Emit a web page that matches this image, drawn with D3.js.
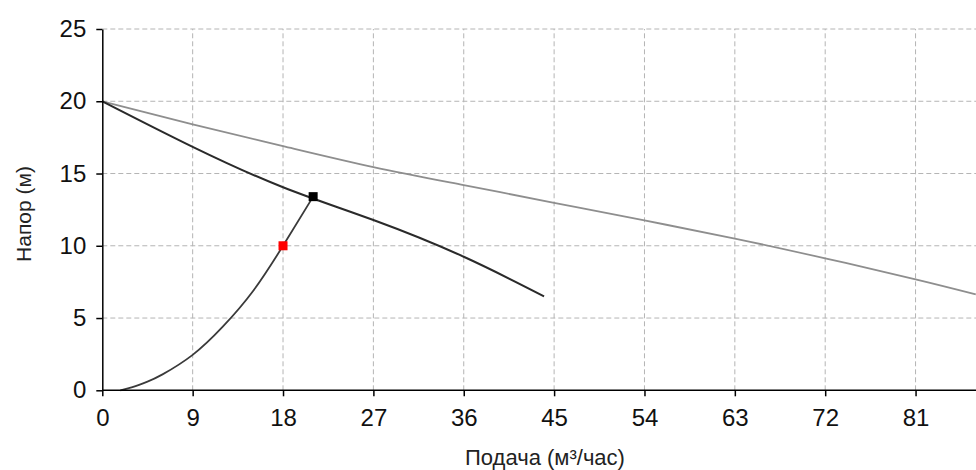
<!DOCTYPE html>
<meta charset="utf-8">
<title>Напор / Подача</title>
<style>
body { margin: 0; background: #fff; }
text { font-family: "Liberation Sans", Arial, sans-serif; }
.axis path, .axis line { stroke: #000; }
.grid line { stroke: #b4b4b4; stroke-dasharray: 5,3; }
</style>
<body>
<script src="https://d3js.org/d3.v7.min.js"></script>
<script>

// axis ticks
var xTicks = [0, 9, 18, 27, 36, 45, 54, 63, 72, 81];
var yTicks = [0, 5, 10, 15, 20, 25];

// grey curve (upper)
var greyQ = [0, 9, 18, 27, 36, 45, 54, 63, 72, 81, 87];
var greyH = [20, 18.4, 16.9, 15.45, 14.2, 12.97, 11.75, 10.5, 9.13, 7.68, 6.64];

// pump curve (black)
var pumpQ = [0, 9, 18, 27, 36, 44];
var pumpH = [20, 16.85, 14.05, 11.78, 9.24, 6.5];

// system curve
var sysQ = [1.8, 3, 4.5, 6, 9, 12, 15, 18, 21];
var sysH = [0, 0.22, 0.6, 1.1, 2.45, 4.4, 6.85, 10, 13.4];

// markers
var workPoint = [21, 13.4];
var reqPoint = [18, 10];

var width = 976, height = 470;

var svg = d3.select("body").append("svg")
    .attr("width", width)
    .attr("height", height);

var x = d3.scaleLinear().domain([0, 87]).range([102.3, 975.8]);
var y = d3.scaleLinear().domain([0, 25]).range([390.3, 29]);

// grid
svg.append("g").attr("class", "grid")
  .selectAll("line").data(xTicks.slice(1)).enter().append("line")
    .attr("x1", d => x(d)).attr("x2", d => x(d))
    .attr("y1", y(0)).attr("y2", y(25));
svg.append("g").attr("class", "grid")
  .selectAll("line").data(yTicks.slice(1)).enter().append("line")
    .attr("x1", x(0)).attr("x2", width)
    .attr("y1", d => y(d)).attr("y2", d => y(d));

var line = d3.line()
    .x(d => x(d[0]))
    .y(d => y(d[1]))
    .curve(d3.curveNatural);

function zip(a, b) { return a.map((v, i) => [v, b[i]]); }

svg.append("path")
    .attr("d", line(zip(greyQ, greyH)))
    .attr("fill", "none").attr("stroke", "#8e8e8e").attr("stroke-width", 1.8);

svg.append("path")
    .attr("d", line(zip(pumpQ, pumpH)))
    .attr("fill", "none").attr("stroke", "#2a2a2a").attr("stroke-width", 2);

svg.append("path")
    .attr("d", line(zip(sysQ, sysH)))
    .attr("fill", "none").attr("stroke", "#3a3a3a").attr("stroke-width", 1.8);

// axes
var xAxis = svg.append("g").attr("class", "axis")
    .attr("transform", "translate(0," + y(0) + ")")
    .call(d3.axisBottom(x).tickValues(xTicks).tickSize(6).tickSizeOuter(0).tickPadding(13));
xAxis.select(".domain").attr("d", "M" + x(0) + ",0H" + width).attr("stroke-width", 1.5);

var yAxis = svg.append("g").attr("class", "axis")
    .attr("transform", "translate(" + x(0) + ",0)")
    .call(d3.axisLeft(y).tickValues(yTicks).tickSize(6).tickSizeOuter(0).tickPadding(10));
yAxis.select(".domain").attr("stroke-width", 1.5);

svg.selectAll(".axis line").attr("stroke-width", 1.5);
svg.selectAll(".axis text")
    .attr("font-size", 24)
    .attr("font-family", "Liberation Sans, Arial, sans-serif")
    .attr("fill", "#111");

// markers
var ms = 9;
svg.append("rect")
    .attr("x", x(reqPoint[0]) - ms / 2).attr("y", y(reqPoint[1]) - ms / 2)
    .attr("width", ms).attr("height", ms).attr("fill", "#ff0000");
svg.append("rect")
    .attr("x", x(workPoint[0]) - ms / 2).attr("y", y(workPoint[1]) - ms / 2)
    .attr("width", ms).attr("height", ms).attr("fill", "#000");

// titles
svg.append("text")
    .attr("x", 545).attr("y", 465)
    .attr("text-anchor", "middle")
    .attr("font-size", 22)
    .attr("fill", "#222")
    .text("Подача (м³/час)");

svg.append("text")
    .attr("transform", "translate(31,214) rotate(-90)")
    .attr("text-anchor", "middle")
    .attr("font-size", 21)
    .attr("fill", "#222")
    .text("Напор (м)");

</script>
</body>
</html>
